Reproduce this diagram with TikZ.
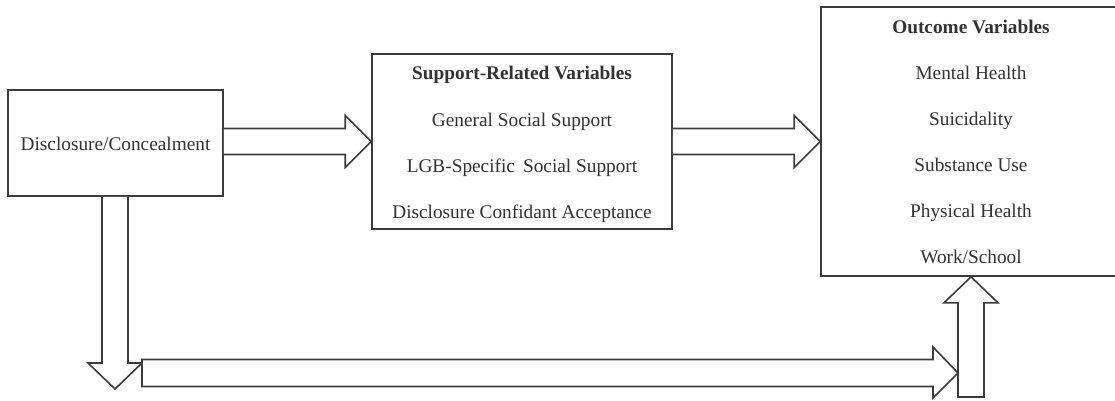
\documentclass[tikz,border=0pt]{standalone}
\usepackage{fontspec}
\setmainfont{Liberation Serif}
\usetikzlibrary{calc}
\definecolor{ink}{HTML}{3C3C3C}
\definecolor{txt}{HTML}{333333}
\tikzset{
  box/.style={draw=ink, line width=1.6pt, fill=white},
  blk/.style={draw=ink, line width=1.6pt, fill=white, line join=miter},
  lbl/.style={text=txt, font=\fontsize{19.3}{23}\selectfont, inner sep=0pt, anchor=center, text height=13pt, text depth=4pt},
  ttl/.style={lbl, font=\fontsize{19.3}{23}\selectfont\bfseries}
}
\begin{document}
\begin{tikzpicture}[x=1pt,y=-1pt]
\useasboundingbox (0,0) rectangle (1115,400);
\clip (0,0) rectangle (1115,400);
% boxes
\node[box, minimum width=215pt, minimum height=106pt, inner sep=0pt] (L) at (115.5,143) {};
\node[box, minimum width=300pt, minimum height=175pt, inner sep=0pt] (M) at (522,141.5) {};
\node[box, minimum width=300pt, minimum height=269pt, inner sep=0pt] (R) at (971,141.5) {};
% texts
\node[lbl] (t0) at (115.5,146) {Disclosure/Concealment};
\node[ttl] (m0) at (522,75) {Support-Related Variables};
\node[lbl] (m1) at (522,122) {General Social Support};
\node[lbl] (m2) at (522,168) {LGB-Specific\, Social Support};
\node[lbl] (m3) at (522,214) {Disclosure Confidant Acceptance};
\node[ttl] (r0) at (971,29) {Outcome Variables};
\node[lbl] (r1) at (971,75) {Mental Health};
\node[lbl] (r2) at (971,121) {Suicidality};
\node[lbl] (r3) at (971,167) {Substance Use};
\node[lbl] (r4) at (971,213) {Physical Health};
\node[lbl] (r5) at (971,259) {Work/School};
% arrow L -> M
\draw[blk] ($(L.east|-M.west)+(0,-13)$) -- ($(M.west)+(-26,-13)$) -- ($(M.west)+(-26,-26)$)
  -- (M.west) -- ($(M.west)+(-26,26)$) -- ($(M.west)+(-26,13)$) -- ($(L.east|-M.west)+(0,13)$);
% arrow M -> R
\draw[blk] ($(M.east)+(0,-13)$) -- ($(R.west)+(-26,-13)$) -- ($(R.west)+(-26,-26)$)
  -- (R.west) -- ($(R.west)+(-26,26)$) -- ($(R.west)+(-26,13)$) -- ($(M.east)+(0,13)$);
% coordinates for the lower route
\coordinate (dtip) at (115,389);
\coordinate (htip) at (958,373);
\coordinate (ubase) at (971,397);
% down arrow from L
\draw[blk] ($(L.south)+(-13.5,0)$) -- ($(dtip)+(-13,-26)$) -- ($(dtip)+(-27,-26)$) -- (dtip)
  -- ($(dtip)+(27,-26)$) -- ($(dtip)+(13,-26)$) -- ($(L.south)+(12.5,0)$);
% up arrow into R
\draw[blk] ($(ubase)+(-13,0)$) -- ($(R.south)+(-13,26)$) -- ($(R.south)+(-27,26)$) -- (R.south)
  -- ($(R.south)+(27,26)$) -- ($(R.south)+(13,26)$) -- ($(ubase)+(13,0)$) -- cycle;
% horizontal bottom arrow
\draw[blk] ($(dtip|-htip)+(27,-13.5)$) -- ($(htip)+(-25,-13.5)$) -- ($(htip)+(-25,-26)$) -- (htip)
  -- ($(htip)+(-25,25)$) -- ($(htip)+(-25,13.5)$) -- ($(dtip|-htip)+(27,13.5)$) -- cycle;
\end{tikzpicture}
\end{document}
